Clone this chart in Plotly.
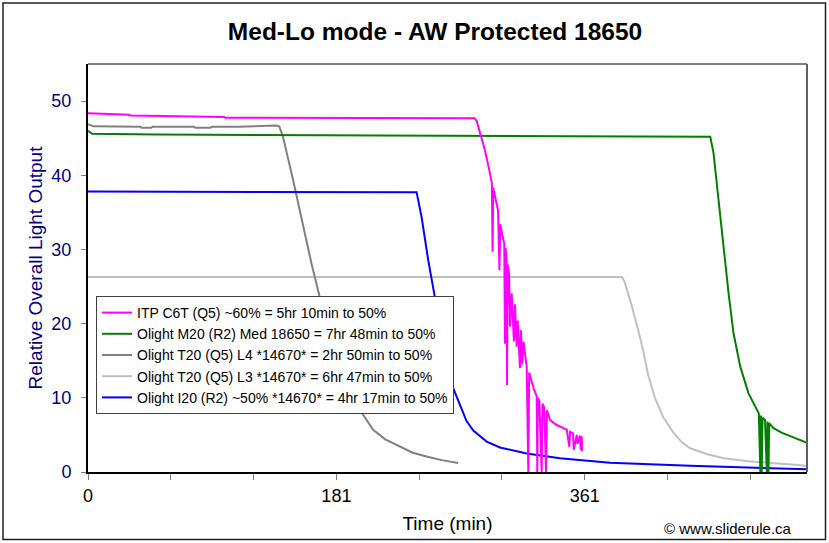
import plotly.graph_objects as go

# ---------------- data (time in minutes, relative output) ----------------
itp_t = [0, 10, 11, 30, 31, 52, 53, 99, 100, 281, 282.5, 284.8, 288.4, 291.5, 293.5, 294.0, 294.5,
         296.0, 298.0, 299.0, 299.6, 301.0, 302.5, 303.0, 303.5, 304.2, 304.5, 305.0, 306.0, 306.7,
         307.9, 309.5, 310.3, 311.5, 312.3, 313.9, 314.6, 315.6, 316.5, 318.8, 320.0, 320.6, 322.5,
         324.0, 326.1, 326.5, 327.0, 328.0, 329.7, 330.3, 331.5, 332.9, 333.5, 335.8, 340.0, 344.0,
         347.9, 349.8, 350.3, 352.5, 353.0, 355.2, 355.7, 357.5, 358.0, 358.8, 359.0]
itp_v = [48.35, 48.3, 48.2, 48.15, 48.05, 48.0, 47.9, 47.85, 47.75, 47.7, 47.3, 45.7, 43.4, 40.8, 38.9, 29.7, 38.3,
         37.0, 35.2, 27.2, 33.4, 32.0, 30.8, 17.3, 30.2, 28.6, 11.7, 28.0, 26.6, 19.6,
         24.1, 17.6, 22.6, 16.9, 20.4, 14.0, 19.1, 14.5, 17.5, 14.2, 0.0, 13.4, 12.0,
         11.2, 10.2, 0.0, 10.0, 9.6, 0.0, 9.2, 8.7, 0.0, 8.3, 7.0, 6.4, 6.0,
         5.7, 3.4, 5.4, 5.2, 3.0, 5.0, 3.8, 4.9, 3.0, 4.8, 2.8]

m20_t = [0, 3, 50, 150, 250, 350, 452.2, 454.6, 458.2, 461.9, 465.5, 469.1, 474.0, 480.0, 487.5,
         488.6, 489.0, 489.6, 490.2, 492.0, 493.3, 493.8, 494.5, 495.0, 498.2, 504.0, 510.4, 516.0, 522.5]
m20_v = [46.0, 45.6, 45.5, 45.4, 45.3, 45.25, 45.2, 42.96, 36.7, 29.9, 24.1, 18.7, 14.2, 10.6, 7.9,
         0.0, 7.6, 0.0, 7.3, 7.0, 0.0, 6.8, 0.0, 6.6, 5.9, 5.3, 4.8, 4.35, 3.95]

t20l4_t = [0, 4, 38, 39, 46, 47, 77, 78, 89, 90, 110, 125, 136.7, 139.0, 141.7, 149.0, 156.3, 162.4,
           168.4, 175.0, 182.0, 190.0, 197.5, 207.2, 216.0, 226.6, 236.0, 246.0, 257.0, 269.0]
t20l4_v = [46.9, 46.6, 46.55, 46.4, 46.4, 46.55, 46.55, 46.4, 46.4, 46.55, 46.55, 46.6, 46.7, 46.6, 45.2, 39.4, 33.1, 28.1,
           23.6, 18.8, 14.6, 11.2, 8.4, 5.7, 4.4, 3.4, 2.6, 2.1, 1.6, 1.2]

t20l3_t = [0, 100, 200, 300, 388, 390, 395, 400, 403.5, 407, 412, 418, 425, 431, 437.6, 450, 462, 480, 500, 522.5]
t20l3_v = [26.3, 26.35, 26.3, 26.3, 26.3, 25.6, 22.5, 19.0, 16.3, 13.15, 10.0, 7.4, 5.4, 4.1, 3.2, 2.4, 1.85, 1.45, 1.15, 0.85]

i20_t = [0, 100, 238.8, 242.4, 247.2, 253.3, 259.4, 265.4, 270.3, 275.0, 280.0, 289.7, 299.4, 318.8,
         343.0, 379.3, 437.6, 480.0, 522.5]
i20_v = [37.8, 37.75, 37.7, 34.4, 28.6, 22.3, 16.0, 11.3, 9.0, 6.9, 5.6, 4.1, 3.3, 2.5,
         1.85, 1.25, 0.85, 0.6, 0.36]

series_names = [
    "ITP C6T (Q5) ~60% = 5hr 10min to 50%",
    "Olight M20 (R2) Med 18650 = 7hr 48min to 50%",
    "Olight T20 (Q5) L4 *14670* = 2hr 50min to 50%",
    "Olight T20 (Q5) L3 *14670* = 6hr 47min to 50%",
    "Olight I20 (R2) ~50% *14670* = 4hr 17min to 50%",
]
series_colors = ["#FF00FF", "#008000", "#808080", "#C0C0C0", "#0000FF"]

x_tick_step = 361 / 6
x_tick_vals = [i * x_tick_step for i in range(9)]
x_tick_text = ["0", "", "", "181", "", "", "361", "", ""]
y_tick_vals = [0, 10, 20, 30, 40, 50]

# ---------------- figure ----------------
FONT = "Liberation Sans, Arial, sans-serif"
fig = go.Figure()
data = [(itp_t, itp_v), (m20_t, m20_v), (t20l4_t, t20l4_v), (t20l3_t, t20l3_v), (i20_t, i20_v)]
# draw order: grey ones first so coloured lines sit on top
order = [3, 2, 4, 1, 0]
for i in order:
    t, v = data[i]
    fig.add_trace(go.Scatter(x=t, y=v, mode="lines", name=series_names[i],
                             line=dict(color=series_colors[i], width=2),
                             legendgroup=str(i), legendrank=i + 1))

W, H = 829, 543
L, R, T, B = 88, 22, 64, 71
pw, ph = W - L - R, H - T - B

def px(xp):
    return (xp - L) / pw

def py(yp):
    return (H - B - yp) / ph

fig.update_layout(
    width=W, height=H,
    margin=dict(l=L, r=R, t=T, b=B),
    paper_bgcolor="white", plot_bgcolor="white",
    font=dict(family=FONT, color="black"),
    title=dict(text="<b>Med-Lo mode - AW Protected 18650</b>", font=dict(size=24.5, family=FONT),
               x=px(435), xref="paper", xanchor="center", y=1 - 31 / H, yanchor="middle"),
    showlegend=True,
    legend=dict(x=px(96), y=py(296), xanchor="left", yanchor="top",
                bgcolor="white", bordercolor="#404040", borderwidth=1,
                font=dict(size=14, family=FONT, color="black"),
                tracegroupgap=0, traceorder="grouped"),
    xaxis=dict(range=[0, 522.5], tickmode="array", tickvals=x_tick_vals, ticktext=x_tick_text,
               showgrid=False, zeroline=False, showline=True, linecolor="black", linewidth=2,
               ticks="outside", ticklen=6, tickcolor="#808080", tickwidth=1,
               tickfont=dict(size=18, color="black"),
               title=dict(text="Time (min)", font=dict(size=19, color="black"), standoff=12)),
    yaxis=dict(range=[0, 55], tickmode="array", tickvals=y_tick_vals,
               showgrid=False, zeroline=False, showline=True, linecolor="black", linewidth=2,
               ticks="outside", ticklen=5, tickcolor="#808080", tickwidth=1,
               tickfont=dict(size=18, color="#000080"), ticklabelstandoff=6,
               title=dict(text="Relative Overall Light Output", font=dict(size=19, color="#000080"),
                          standoff=4)),
    shapes=[
        # top border of plot area
        dict(type="line", xref="paper", yref="paper", x0=0, x1=1, y0=1, y1=1,
             line=dict(color="black", width=1)),
        # right border of plot area
        dict(type="line", xref="paper", yref="paper", x0=1, x1=1, y0=0, y1=1,
             line=dict(color="#606060", width=2)),
        # outer chart frame
        dict(type="rect", xref="paper", yref="paper", x0=px(3), x1=px(825.5), y0=py(539.5), y1=py(3),
             line=dict(color="#202020", width=1.5), fillcolor="rgba(0,0,0,0)", layer="above"),
    ],
    annotations=[
        dict(text="© www.sliderule.ca", xref="paper", yref="paper", x=px(794), y=py(528),
             xanchor="right", yanchor="middle", showarrow=False,
             font=dict(size=15, family=FONT, color="black")),
    ],
)

fig.write_html("out.html", config={"displayModeBar": False},
               post_script="document.body.style.margin='0';document.body.style.overflow='hidden';")
